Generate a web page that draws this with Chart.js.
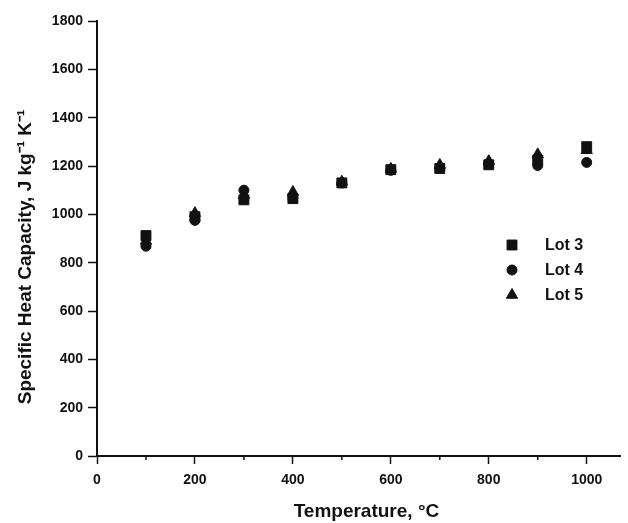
<!DOCTYPE html>
<html>
<head>
<meta charset="utf-8">
<script src="https://cdn.jsdelivr.net/npm/chart.js@4.4.1/dist/chart.umd.min.js"></script>
<style>
  html, body { margin: 0; padding: 0; background: #fff; }
  #wrap { width: 628px; height: 523px; }
</style>
</head>
<body>
<div id="wrap"><canvas id="heatChart" width="628" height="523"></canvas></div>
<script>
const temps = [100, 200, 300, 400, 500, 600, 700, 800, 900, 1000];
const lot3 = [912, 990, 1060, 1065, 1130, 1185, 1190, 1205, 1225, 1280];
const lot4 = [868, 975, 1100, 1068, 1130, 1182, 1190, 1210, 1202, 1215];
const lot5 = [890, 1005, 1080, 1092, 1135, 1188, 1204, 1220, 1248, 1265];
const lotNames = ["Lot 3", "Lot 4", "Lot 5"];
const yTicks = [0, 200, 400, 600, 800, 1000, 1200, 1400, 1600, 1800];
const xTicks = [0, 200, 400, 600, 800, 1000];
const xMinor = [100, 300, 500, 700, 900];

const ink = "#111";
const fontFam = "'Liberation Sans', Arial, sans-serif";

function toPoints(vals) {
  return temps.map((t, i) => ({ x: t, y: vals[i] }));
}

// little ticks between the labelled ones on the x axis
const minorTicks = {
  id: "minorTicks",
  afterDraw(chart) {
    const ctx = chart.ctx;
    const xs = chart.scales.x;
    const bottom = chart.chartArea.bottom;
    ctx.save();
    ctx.strokeStyle = ink;
    ctx.lineWidth = 1.5;
    xMinor.forEach(v => {
      const px = xs.getPixelForValue(v);
      ctx.beginPath();
      ctx.moveTo(px, bottom);
      ctx.lineTo(px, bottom + 4);
      ctx.stroke();
    });
    ctx.restore();
  }
};

// legend sits inside the plot, right side
const insideLegend = {
  id: "insideLegend",
  afterDraw(chart) {
    const ctx = chart.ctx;
    const x0 = 512, y0 = 245, gap = 25;
    ctx.save();
    chart.data.datasets.forEach((ds, i) => {
      const y = y0 + i * gap;
      ctx.fillStyle = ink;
      ctx.strokeStyle = ink;
      Chart.helpers.drawPoint(ctx, {
        pointStyle: ds.pointStyle,
        radius: ds.pointRadius,
        borderWidth: 1
      }, x0, y);
      ctx.font = "bold 16px " + fontFam;
      ctx.textBaseline = "middle";
      ctx.textAlign = "left";
      ctx.fillText(ds.label, x0 + 33, y + 1);
    });
    ctx.restore();
  }
};

const styles = ["rect", "circle", "triangle"];
const radii = [7, 5, 6.5];
const series = [lot3, lot4, lot5];

const datasets = series.map((vals, i) => ({
  label: lotNames[i],
  data: toPoints(vals),
  pointStyle: styles[i],
  pointRadius: radii[i],
  backgroundColor: ink,
  borderColor: ink,
  borderWidth: 1
}));

new Chart(document.getElementById("heatChart"), {
  type: "scatter",
  data: { datasets: datasets },
  options: {
    responsive: false,
    animation: false,
    layout: { padding: { top: 21, right: 0, left: 0, bottom: 0 } },
    plugins: {
      legend: { display: false },
      tooltip: { enabled: false }
    },
    scales: {
      x: {
        type: "linear",
        min: 0,
        max: 1068,
        afterBuildTicks(scale) {
          scale.ticks = xTicks.map(v => ({ value: v }));
        },
        afterFit(scale) { scale.height = 67; },
        grid: { drawOnChartArea: false, tickLength: 8, tickWidth: 1.5, tickColor: ink },
        border: { color: ink, width: 2 },
        ticks: {
          color: ink,
          padding: 8,
          maxRotation: 0,
          callback: v => String(v),
          font: { family: fontFam, size: 14, weight: "bold" }
        },
        title: {
          display: true,
          // leading spaces nudge it right a little
          text: "   Temperature, \u00B0C",
          color: ink,
          padding: { top: 0, bottom: 0 },
          font: { family: fontFam, size: 19, weight: "bold" }
        }
      },
      y: {
        type: "linear",
        min: 0,
        max: 1800,
        afterBuildTicks(scale) {
          scale.ticks = yTicks.map(v => ({ value: v }));
        },
        afterFit(scale) { scale.width = 97; },
        grid: { drawOnChartArea: false, tickLength: 9, tickWidth: 1.5, tickColor: ink },
        border: { color: ink, width: 2 },
        ticks: {
          color: ink,
          padding: 5,
          callback: v => String(v),
          font: { family: fontFam, size: 14, weight: "bold" }
        },
        title: {
          display: true,
          // trailing spaces push the title a bit down, like the original
          text: "Specific Heat Capacity, J kg\u207B\u00B9 K\u207B\u00B9       ",
          color: ink,
          padding: { top: 14, bottom: 0 },
          font: { family: fontFam, size: 19, weight: "bold" }
        }
      }
    }
  },
  plugins: [minorTicks, insideLegend]
});
</script>
</body>
</html>
